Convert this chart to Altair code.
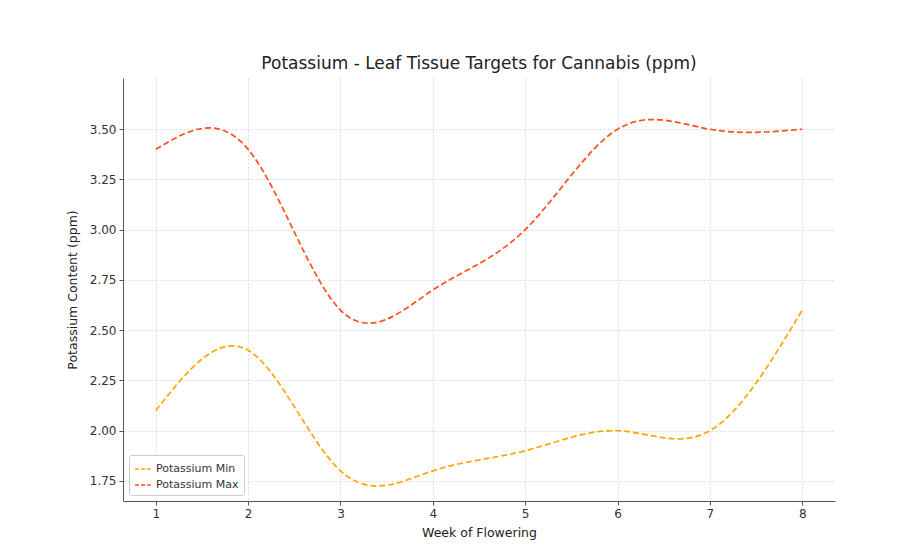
import altair as alt
import pandas as pd

weeks = [1, 2, 3, 4, 5, 6, 7, 8]
k_min = [2.1, 2.4, 1.8, 1.8, 1.9, 2.0, 2.0, 2.6]
k_max = [3.4, 3.4, 2.6, 2.7, 3.0, 3.5, 3.5, 3.5]
series_names = ["Potassium Min", "Potassium Max"]
colors = ["#FFA500", "#FF4F1A"]
y_ticks = [1.75, 2.0, 2.25, 2.5, 2.75, 3.0, 3.25, 3.5]

rows = []
for w, v in zip(weeks, k_min):
    rows.append({"week": w, "value": v, "series": series_names[0]})
for w, v in zip(weeks, k_max):
    rows.append({"week": w, "value": v, "series": series_names[1]})
df = pd.DataFrame(rows)

FONT = "DejaVu Sans"

chart = alt.Chart(df).mark_line(
    interpolate="natural", strokeDash=[6, 3], strokeWidth=1.7
).encode(
    x=alt.X("week:Q", title="Week of Flowering",
            scale=alt.Scale(domain=[0.645, 8.355], nice=False, zero=False),
            axis=alt.Axis(values=weeks, format="d")),
    y=alt.Y("value:Q", title="Potassium Content (ppm)",
            scale=alt.Scale(domain=[1.65, 3.755], nice=False, zero=False),
            axis=alt.Axis(values=y_ticks, format=".2f")),
    color=alt.Color("series:N", sort=series_names,
                    scale=alt.Scale(domain=series_names, range=colors),
                    legend=alt.Legend(title=None, orient="bottom-left",
                                      symbolType="stroke", symbolDash=[4, 2],
                                      symbolStrokeWidth=1.6, symbolSize=250,
                                      labelFontSize=11, labelFont=FONT,
                                      labelColor="#333", rowPadding=2,
                                      padding=5, offset=6,
                                      strokeColor="#ccc", fillColor="white",
                                      cornerRadius=2)),
    order="series:N",
).properties(
    width=712, height=423,
    background="white",
    title=alt.TitleParams("Potassium - Leaf Tissue Targets for Cannabis (ppm)",
                          font=FONT, fontSize=17, fontWeight="normal",
                          color="#222", offset=5, anchor="middle"),
    autosize=alt.AutoSizeParams(type="none"),
    padding={"left": 115, "top": 70, "right": 60, "bottom": 40},
).configure_view(
    stroke=None
).configure_axis(
    labelFont=FONT, titleFont=FONT, labelFontSize=12, titleFontSize=12.5,
    titleFontWeight="normal", labelColor="#333", titleColor="#222",
    domainColor="#555", tickColor="#555", tickSize=4,
    gridColor="#d0d0d0", gridDash=[2, 2], gridWidth=0.8,
    labelPadding=3,
).configure_axisX(
    titlePadding=7
).configure_axisY(
    titlePadding=10
)

chart.save("out.html", embed_options={"renderer": "svg", "actions": False})
